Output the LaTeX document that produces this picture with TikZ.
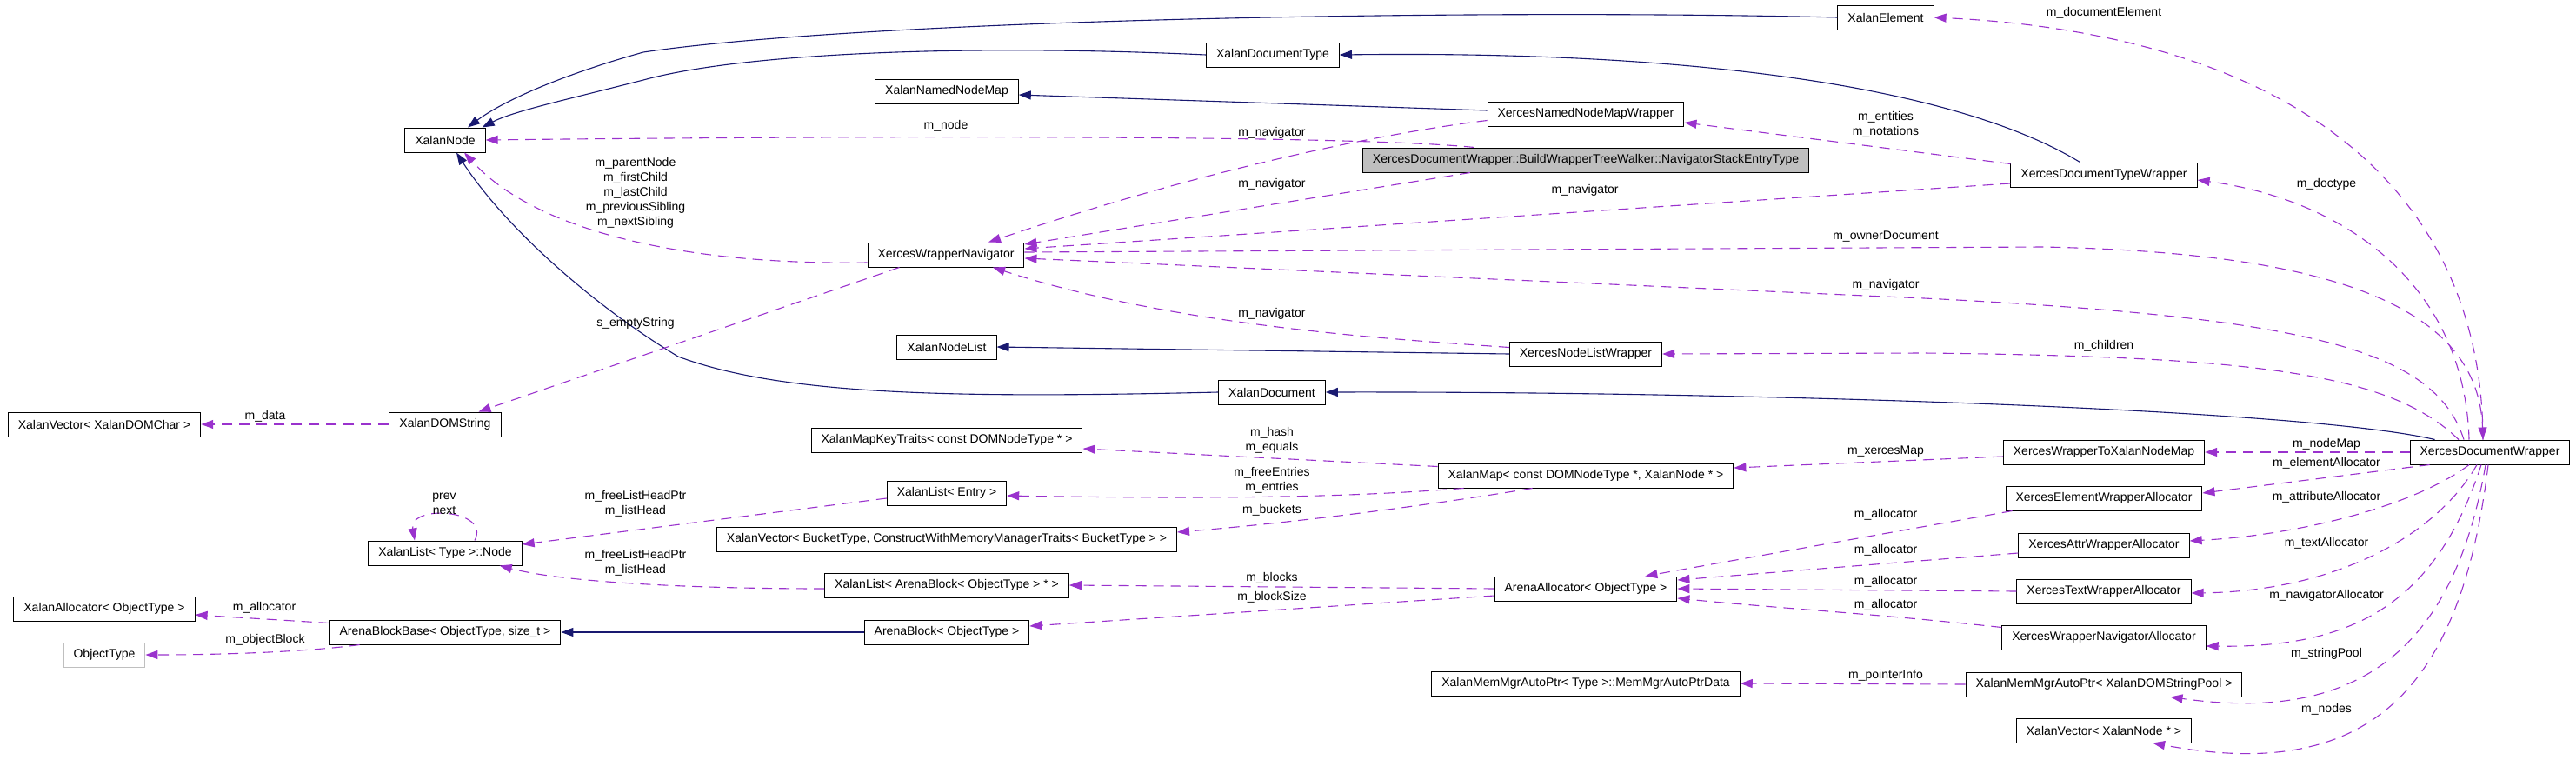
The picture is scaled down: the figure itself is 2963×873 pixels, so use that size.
\documentclass[tikz,border=0pt]{standalone}
\usepackage{fontspec}
\setmainfont{Liberation Sans}
\usetikzlibrary{arrows.meta,calc}
\definecolor{EdgeNavy}{RGB}{25,25,112}
\definecolor{EdgePurple}{RGB}{154,50,205}
\definecolor{MainGrey}{RGB}{191,191,191}
\tikzset{
  cls/.style={draw=black,fill=white,line width=1pt,minimum height=28pt,
    inner xsep=11.5pt,inner ysep=0pt,font=\fontsize{14}{17}\selectfont},
  maincls/.style={cls,fill=MainGrey},
  undoc/.style={cls,draw=MainGrey},
  lbl/.style={inner sep=0pt,align=center,font=\fontsize{14}{17}\selectfont},
  inh/.style={-{Triangle[length=14pt,width=10pt]},line width=1.1pt,EdgeNavy},
  use/.style={-{Triangle[length=14pt,width=10pt]},line width=1.1pt,EdgePurple,
    dash pattern=on 12pt off 8pt}
}
\begin{document}
\begin{tikzpicture}[x=1pt,y=-1pt]
\useasboundingbox (0,0) rectangle (2963,873);

% Classes, left to right
\node[cls] (xvchar) at (120,488) {XalanVector< XalanDOMChar >};
\node[cls] (xalloc) at (120,700) {XalanAllocator< ObjectType >};
\node[undoc] (objtype) at (120,753) {ObjectType};

\node[cls] (xnode) at (512,161) {XalanNode};
\node[cls] (xdomstr) at (512,488) {XalanDOMString};
\node[cls] (listnode) at (512,636) {XalanList< Type >::Node};
\node[cls] (blockbase) at (512,727) {ArenaBlockBase< ObjectType, size\_t >};

\node[cls] (xnnm) at (1089,105) {XalanNamedNodeMap};
\node[cls] (xcnav) at (1088,293) {XercesWrapperNavigator};
\node[cls] (xnl) at (1089,399) {XalanNodeList};
\node[cls] (keytraits) at (1089,506) {XalanMapKeyTraits< const DOMNodeType * >};
\node[cls] (listentry) at (1089,567) {XalanList< Entry >};
\node[cls] (vecbucket) at (1089,620) {XalanVector< BucketType, ConstructWithMemoryManagerTraits< BucketType > >};
\node[cls] (listblock) at (1089,673) {XalanList< ArenaBlock< ObjectType > * >};
\node[cls] (arenablock) at (1089,727) {ArenaBlock< ObjectType >};

\node[cls] (xdoctype) at (1464,63) {XalanDocumentType};
\node[cls] (xdoc) at (1463,451) {XalanDocument};

\node[cls] (xcnnmw) at (1824,131) {XercesNamedNodeMapWrapper};
\node[maincls] (entry) at (1824,184) {XercesDocumentWrapper::BuildWrapperTreeWalker::NavigatorStackEntryType};
\node[cls] (xcnlw) at (1824,407) {XercesNodeListWrapper};
\node[cls] (xmap) at (1824,547) {XalanMap< const DOMNodeType *, XalanNode * >};
\node[cls] (arenaalloc) at (1824,677) {ArenaAllocator< ObjectType >};
\node[cls] (autoptrdata) at (1824,786) {XalanMemMgrAutoPtr< Type >::MemMgrAutoPtrData};

\node[cls] (xelem) at (2169,20) {XalanElement};
\node[cls] (xcdtw) at (2420,201) {XercesDocumentTypeWrapper};
\node[cls] (towrap) at (2420,520) {XercesWrapperToXalanNodeMap};
\node[cls] (elemalloc) at (2420,573) {XercesElementWrapperAllocator};
\node[cls] (attralloc) at (2420,627) {XercesAttrWrapperAllocator};
\node[cls] (textalloc) at (2420,680) {XercesTextWrapperAllocator};
\node[cls] (navalloc) at (2420,733) {XercesWrapperNavigatorAllocator};
\node[cls] (strpool) at (2420,787) {XalanMemMgrAutoPtr< XalanDOMStringPool >};
\node[cls] (vecnode) at (2420,840) {XalanVector< XalanNode * >};

\node[cls] (xcdw) at (2864,520) {XercesDocumentWrapper};

% Inheritance
\draw[inh] (xelem.west) .. controls (1700,10) and (1000,22) .. (740,60)
  .. controls (650,85) and (580,115) .. ($(xnode.north)+(26,0)$);
\draw[inh] (xdoctype.west) .. controls (1100,50) and (850,62) .. (740,92)
  .. controls (650,115) and (590,128) .. ($(xnode.north east)+(-4,0)$);
\draw[inh] ($(xcdtw.north west)+(80,0)$) .. controls (2250,100) and (1950,58) .. (xdoctype.east);
\draw[inh] ($(xcnnmw.west)+(0,-4)$) -- ($(xnnm.east)+(0,4)$);
\draw[inh] (xcnlw.west) -- (xnl.east);
\draw[inh] ($(xcdw.north west)+(29,0)$) .. controls (2650,470) and (2000,450) .. (xdoc.east);
\draw[inh] (xdoc.west) .. controls (1100,458) and (900,455) .. (780,410)
  .. controls (680,350) and (580,260) .. ($(xnode.south)+(13,0)$);
\draw[inh] (arenablock.west) -- (blockbase.east);

% Members of the entry type
\draw[use] ($(entry.north west)+(129,0)$) .. controls (1550,155) and (1000,156) .. (xnode.east);
\node[lbl] (l_node) at (1088,145) {m\_node};
\draw[use] ($(entry.south west)+(124,0)$) -- ($(xcnav.east)+(0,-12)$);
\node[lbl] (l_nav2) at (1463,212) {m\_navigator};

% Members of the wrappers
\draw[use] ($(xcnnmw.south west)+(0,-7)$) .. controls (1600,152) and (1400,190) .. ($(xcnav.north)+(49,0)$);
\node[lbl] (l_nav1) at (1463,153) {m\_navigator};
\draw[use] ($(xcnlw.north west)+(0,7)$) .. controls (1600,390) and (1350,375) .. ($(xcnav.south)+(54,0)$);
\node[lbl] (l_nav6) at (1463,361) {m\_navigator};
\draw[use] ($(xcdtw.north west)+(0,2)$) -- ($(xcnnmw.east)+(0,10)$);
\node[lbl] (l_ent) at (2169,143.5) {m\_entities\\m\_notations};
\draw[use] ($(xcdtw.west)+(0,10)$) -- ($(xcnav.east)+(0,-7)$);
\node[lbl] (l_nav3) at (1823,219) {m\_navigator};

% Members of the navigator
\draw[use] ($(xcnav.west)+(0,9)$) .. controls (800,305) and (620,270) .. ($(xnode.south)+(22,0)$);
\node[lbl] (l_tree) at (731,222) {m\_parentNode\\m\_firstChild\\m\_lastChild\\m\_previousSibling\\m\_nextSibling};
\draw[use] ($(xcnav.south west)+(37,0)$) -- ($(xdomstr.north east)+(-26,0)$);
\node[lbl] (l_empty) at (731,372) {s\_emptyString};
\draw[use] ($(xcnav.east)+(0,-3)$) -- (2350,284) .. controls (2650,290) and (2850,340) .. ($(xcdw.north)+(-8,0)$);
\node[lbl] (l_owner) at (2169,272) {m\_ownerDocument};

% Strings, lists and blocks
\draw[use] (xdomstr.west) -- (xvchar.east);
\node[lbl] (l_data) at (305,479) {m\_data};
\draw[use] ($(listnode.north)+(34,0)$) .. controls (565,585) and (470,580) .. ($(listnode.north)+(-35,0)$);
\node[lbl] (l_prev) at (511,579.5) {prev\\next};
\draw[use] ($(listentry.west)+(0,6)$) -- ($(listnode.east)+(0,-10)$);
\node[lbl] (l_free1) at (731,579.5) {m\_freeListHeadPtr\\m\_listHead};
\draw[use] ($(listblock.west)+(0,4)$) .. controls (800,677) and (650,670) .. ($(listnode.south east)+(-26,0)$);
\node[lbl] (l_free2) at (731,647.5) {m\_freeListHeadPtr\\m\_listHead};
\draw[use] ($(blockbase.north west)+(0,4)$) -- ($(xalloc.east)+(0,7)$);
\node[lbl] (l_alloc0) at (304,699) {m\_allocator};
\draw[use] ($(blockbase.south west)+(35,0)$) .. controls (350,750) and (250,753) .. (objtype.east);
\node[lbl] (l_objblock) at (305,736) {m\_objectBlock};

% Map and arena
\draw[use] ($(xmap.north west)+(0,4)$) -- ($(keytraits.east)+(0,10)$);
\node[lbl] (l_hash) at (1463,506) {m\_hash\\m\_equals};
\draw[use] ($(xmap.south west)+(30,0)$) .. controls (1550,572) and (1400,574) .. ($(listentry.east)+(0,3)$);
\node[lbl] (l_entries) at (1463,552) {m\_freeEntries\\m\_entries};
\draw[use] ($(xmap.south west)+(109,0)$) .. controls (1650,580) and (1500,600) .. ($(vecbucket.east)+(0,-8)$);
\node[lbl] (l_buckets) at (1463,587) {m\_buckets};
\draw[use] (arenaalloc.west) -- (listblock.east);
\node[lbl] (l_blocks) at (1463,665) {m\_blocks};
\draw[use] ($(arenaalloc.west)+(0,8)$) -- ($(arenablock.east)+(0,-7)$);
\node[lbl] (l_bsize) at (1463,687) {m\_blockSize};

% Allocators and maps of the document wrapper
\draw[use] ($(towrap.west)+(0,5)$) -- ($(xmap.east)+(0,-9)$);
\node[lbl] (l_xmap) at (2169,519) {m\_xercesMap};
\draw[use] ($(elemalloc.south west)+(8,0)$) -- ($(arenaalloc.north east)+(-37,0)$);
\node[lbl] (l_alloc1) at (2169,592) {m\_allocator};
\draw[use] ($(attralloc.west)+(0,9)$) -- ($(arenaalloc.east)+(0,-10)$);
\node[lbl] (l_alloc2) at (2169,633) {m\_allocator};
\draw[use] (textalloc.west) -- (arenaalloc.east);
\node[lbl] (l_alloc3) at (2169,669) {m\_allocator};
\draw[use] ($(navalloc.north west)+(0,3)$) .. controls (2150,705) and (2050,700) .. ($(arenaalloc.east)+(0,11)$);
\node[lbl] (l_alloc4) at (2169,696) {m\_allocator};
\draw[use] (strpool.west) -- (autoptrdata.east);
\node[lbl] (l_ptr) at (2169,777) {m\_pointerInfo};

% Members of the document wrapper
\draw[use] ($(xcdw.north)+(-8,0)$) .. controls (2855,220) and (2640,40) .. (xelem.east);
\node[lbl] (l_docelem) at (2420,15) {m\_documentElement};
\draw[use] ($(xcdw.north)+(-24,0)$) .. controls (2835,330) and (2700,230) .. ($(xcdtw.east)+(0,6)$);
\node[lbl] (l_doctype) at (2676,212) {m\_doctype};
\draw[use] ($(xcdw.north)+(-30,0)$) .. controls (2800,400) and (2650,365) .. (2213,343) -- ($(xcnav.east)+(0,4)$);
\node[lbl] (l_nav4) at (2169,328) {m\_navigator};
\draw[use] ($(xcdw.north)+(-36,0)$) .. controls (2750,430) and (2600,410) .. (2213,406) -- (xcnlw.east);
\node[lbl] (l_children) at (2420,398) {m\_children};
\draw[use] (xcdw.west) -- (towrap.east);
\node[lbl] (l_nodemap) at (2676,511) {m\_nodeMap};
\draw[use] ($(xcdw.south west)+(23,0)$) -- ($(elemalloc.east)+(0,-6)$);
\node[lbl] (l_elalloc) at (2676,533) {m\_elementAllocator};
\draw[use] ($(xcdw.south)+(-24,0)$) .. controls (2780,580) and (2650,615) .. ($(attralloc.east)+(0,-5)$);
\node[lbl] (l_atalloc) at (2676,572) {m\_attributeAllocator};
\draw[use] ($(xcdw.south)+(-15,0)$) .. controls (2800,620) and (2680,680) .. ($(textalloc.east)+(0,2)$);
\node[lbl] (l_txalloc) at (2676,625) {m\_textAllocator};
\draw[use] ($(xcdw.south)+(-10,0)$) .. controls (2800,700) and (2700,745) .. ($(navalloc.east)+(0,10)$);
\node[lbl] (l_nvalloc) at (2676,685) {m\_navigatorAllocator};
\draw[use] ($(xcdw.south)+(-5,0)$) .. controls (2820,760) and (2700,830) .. ($(strpool.south east)+(-83,0)$);
\node[lbl] (l_pool) at (2676,752) {m\_stringPool};
\draw[use] ($(xcdw.south)+(-2,0)$) .. controls (2830,800) and (2720,900) .. ($(vecnode.south east)+(-45,0)$);
\node[lbl] (l_nodes) at (2676,816) {m\_nodes};

\end{tikzpicture}
\end{document}
